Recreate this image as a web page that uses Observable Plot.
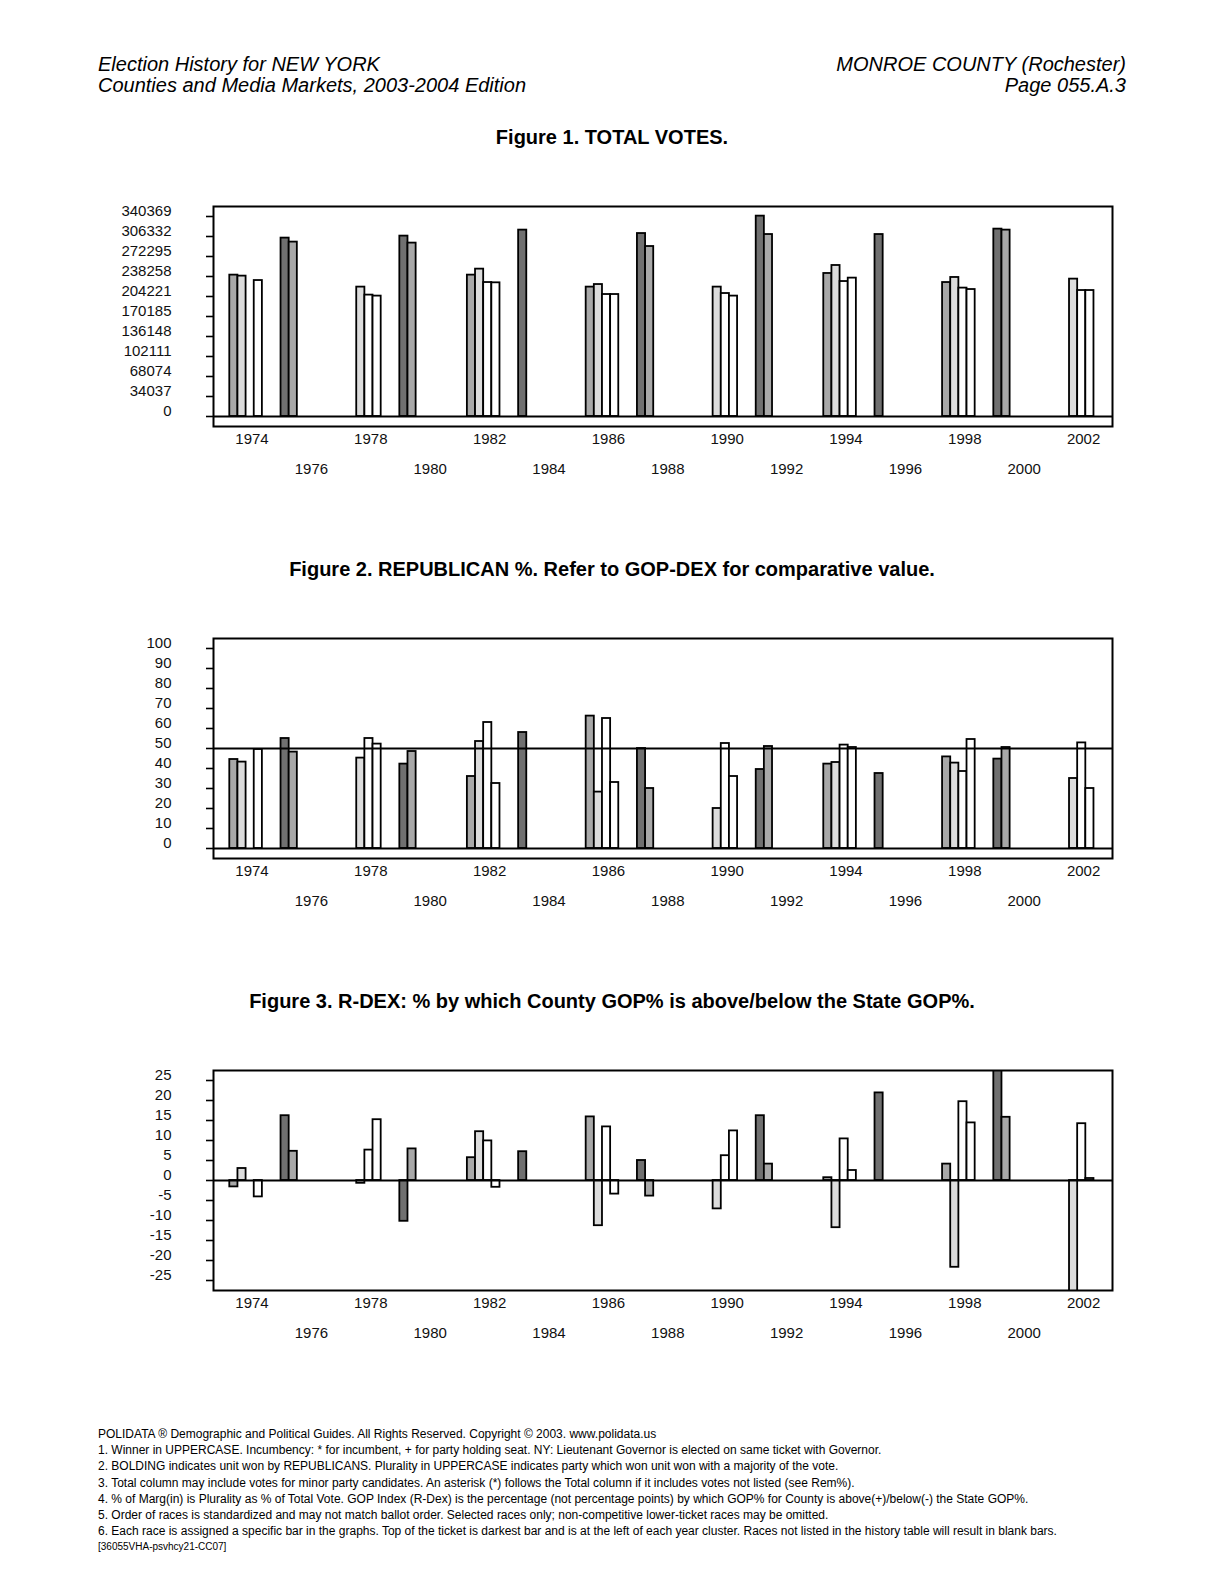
<!DOCTYPE html>
<html>
<head>
<meta charset="utf-8">
<script src="https://cdn.jsdelivr.net/npm/d3@7"></script>
<script src="https://cdn.jsdelivr.net/npm/@observablehq/plot@0.6"></script>
<style>
  html, body { margin: 0; padding: 0; background: #fff; }
  body { width: 1224px; height: 1583px; position: relative; overflow: hidden;
         font-family: "Liberation Sans", Arial, sans-serif; color: #000; }
  .abs { position: absolute; white-space: nowrap; }
  .hdr { font-style: italic; font-size: 20px; line-height: 20px; }
  .title { left: 0; width: 1224px; text-align: center; font-weight: bold; font-size: 20px; line-height: 20px; }
  .foot { left: 98px; font-size: 12px; line-height: 16.2px; }
  .fig { position: absolute; left: 0; }
</style>
</head>
<body>
<div class="abs hdr" style="left:98px; top:54px;">Election History for NEW YORK</div>
<div class="abs hdr" style="left:98px; top:75px;">Counties and Media Markets, 2003-2004 Edition</div>
<div class="abs hdr" style="right:98px; top:54px; text-align:right;">MONROE COUNTY (Rochester)</div>
<div class="abs hdr" style="right:98px; top:75px; text-align:right;">Page 055.A.3</div>

<div class="abs title" style="top:127px;">Figure 1. TOTAL VOTES.</div>
<div class="abs title" style="top:559px;">Figure 2. REPUBLICAN %. Refer to GOP-DEX for comparative value.</div>
<div class="abs title" style="top:991px;">Figure 3. R-DEX: % by which County GOP% is above/below the State GOP%.</div>

<div id="fig1" class="fig" style="top:186px;"></div>
<div id="fig2" class="fig" style="top:618px;"></div>
<div id="fig3" class="fig" style="top:1050px;"></div>

<div id="footer" class="abs foot" style="top:1426px;"></div>

<script>
// ---------- DATA ----------
const years = [1974, 1976, 1978, 1980, 1982, 1984, 1986, 1988, 1990, 1992, 1994, 1996, 1998, 2000, 2002];
const races = ["race1", "race2", "race3", "race4", "race5"]; // darkest (top of ticket) at left
const raceFills = ["#707070", "#a8a8a8", "#dcdcdc", "#ffffff", "#ffffff"];

// Figure 1. TOTAL VOTES
const votesRace1 = [null, 303600, null, 307000, null, 317200, null, 311400, null, 341000, null, 309700, null, 318900, null];
const votesRace2 = [240600, 296800, null, 295100, 240600, null, 220200, 289300, null, 309700, 243400, null, 228000, 317200, null];
const votesRace3 = [238900, null, 220200, null, 250800, null, 224600, null, 220200, null, 257000, null, 236600, null, 233800];
const votesRace4 = [null, null, 206600, null, 228000, null, 207600, null, 209300, null, 229700, null, 218500, null, 214400];
const votesRace5 = [231400, null, 204900, null, 227500, null, 207600, null, 204900, null, 235500, null, 216100, null, 214400];
const votesTicks = [0, 34037, 68074, 102111, 136148, 170185, 204221, 238258, 272295, 306332, 340369];

// Figure 2. REPUBLICAN %
const gopRace1 = [null, 55, null, 42.2, null, 58, null, 50, null, 39.5, null, 37.5, null, 44.7, null];
const gopRace2 = [44.5, 48.2, null, 48.5, 36, null, 66.2, 30, null, 51, 42.2, null, 45.8, 50.5, null];
const gopRace3 = [43.2, null, 45.2, null, 53.5, null, 28.2, null, 20, null, 43, null, 42.7, null, 35];
const gopRace4 = [null, null, 55, null, 63, null, 65, null, 52.5, null, 51.7, null, 38.5, null, 52.8];
const gopRace5 = [49.5, null, 52.2, null, 32.5, null, 33, null, 36, null, 50.5, null, 54.5, null, 30];
const gopTicks = [0, 10, 20, 30, 40, 50, 60, 70, 80, 90, 100];
const gopRefLine = [50];

// Figure 3. R-DEX
const rdexRace1 = [null, 16.2, null, -10.2, null, 7.2, null, 5.0, null, 16.2, null, 21.9, null, 29, null];
const rdexRace2 = [-1.6, 7.3, null, 7.9, 5.7, null, 15.9, -3.9, null, 4.1, 0.7, null, 4.1, 15.8, null];
const rdexRace3 = [3.0, null, -0.7, null, 12.2, null, -11.3, null, -7.1, null, -11.8, null, -21.7, null, -30];
const rdexRace4 = [null, null, 7.6, null, 9.9, null, 13.4, null, 6.2, null, 10.4, null, 19.7, null, 14.2];
const rdexRace5 = [-4.1, null, 15.2, null, -1.7, null, -3.4, null, 12.4, null, 2.5, null, 14.4, null, 0.5];
const rdexTicks = [25, 20, 15, 10, 5, 0, -5, -10, -15, -20, -25];

const footerLines = [
  "POLIDATA \u00AE Demographic and Political Guides. All Rights Reserved. Copyright \u00A9 2003. www.polidata.us",
  "1. Winner in UPPERCASE. Incumbency: * for incumbent, + for party holding seat. NY: Lieutenant Governor is elected on same ticket with Governor.",
  "2. BOLDING indicates unit won by REPUBLICANS. Plurality in UPPERCASE indicates party which won unit won with a majority of the vote.",
  "3. Total column may include votes for minor party candidates. An asterisk (*) follows the Total column if it includes votes not listed (see Rem%).",
  "4. % of Marg(in) is Plurality as % of Total Vote. GOP Index (R-Dex) is the percentage (not percentage points) by which GOP% for County is above(+)/below(-) the State GOP%.",
  "5. Order of races is standardized and may not match ballot order. Selected races only; non-competitive lower-ticket races may be omitted.",
  "6. Each race is assigned a specific bar in the graphs. Top of the ticket is darkest bar and is at the left of each year cluster. Races not listed in the history table will result in blank bars."
];
const footerCode = "[36055VHA-psvhcy21-CC07]";

// ---------- BUILD ----------
function toLong(seriesList) {
  const out = [];
  seriesList.forEach((vals, s) => {
    vals.forEach((v, j) => {
      if (v !== null && v !== undefined) out.push({year: years[j], slot: s, race: races[s], value: v});
    });
  });
  return out;
}

const SLOT = 0.2744;            // width of one race bar, in years
const FONT = "'Liberation Sans', Arial, sans-serif";

function chart({data, yDomain, yTicks, refs = []}) {
  const evenYears = years.filter((d, i) => i % 2 === 0);
  const oddYears = years.filter((d, i) => i % 2 === 1);
  return Plot.plot({
    width: 1224,
    height: 310,
    marginLeft: 213,
    marginRight: 112,
    marginTop: 20,
    marginBottom: 70,
    style: {fontFamily: FONT, fontSize: "15px", color: "#000", background: "transparent", overflow: "visible"},
    x: {type: "linear", domain: [1973.04, 2003.31], axis: null},
    y: {domain: yDomain, axis: null},
    color: {domain: races, range: raceFills},
    marks: [
      Plot.rectY(data, {
        x1: d => d.year + (d.slot - 2.5) * SLOT,
        x2: d => d.year + (d.slot - 1.5) * SLOT,
        y1: 0,
        y2: "value",
        fill: "race",
        stroke: "#000",
        strokeWidth: 1.8,
        clip: true
      }),
      Plot.ruleY([0, ...refs], {stroke: "#000", strokeWidth: 2}),
      Plot.axisY(yTicks, {anchor: "left", tickSize: 7, tickFormat: () => "", stroke: "#000", strokeWidth: 1.6, label: null}),
      Plot.text(yTicks, {y: d => d, frameAnchor: "left", dx: -42, dy: -5, textAnchor: "end", text: d => String(d), fill: "#111", fontSize: 15}),
      Plot.axisX(evenYears, {anchor: "bottom", tickSize: 0, tickPadding: 7, dx: 10, tickFormat: d => String(d), fill: "#111", fontSize: 15, label: null}),
      Plot.axisX(oddYears, {anchor: "bottom", tickSize: 0, tickPadding: 37, dx: 10, tickFormat: d => String(d), fill: "#111", fontSize: 15, label: null}),
      Plot.frame({stroke: "#000", strokeWidth: 2})
    ]
  });
}

document.getElementById("fig1").append(chart({
  data: toLong([votesRace1, votesRace2, votesRace3, votesRace4, votesRace5]),
  yDomain: [-17018.5, 357387.5],
  yTicks: votesTicks
}));
document.getElementById("fig2").append(chart({
  data: toLong([gopRace1, gopRace2, gopRace3, gopRace4, gopRace5]),
  yDomain: [-5, 105],
  yTicks: gopTicks,
  refs: gopRefLine
}));
document.getElementById("fig3").append(chart({
  data: toLong([rdexRace1, rdexRace2, rdexRace3, rdexRace4, rdexRace5]),
  yDomain: [-27.5, 27.5],
  yTicks: rdexTicks
}));

const foot = document.getElementById("footer");
footerLines.forEach(t => {
  const div = document.createElement("div");
  div.textContent = t;
  foot.append(div);
});
const code = document.createElement("div");
code.textContent = footerCode;
code.style.fontSize = "10px";
foot.append(code);
</script>
</body>
</html>
